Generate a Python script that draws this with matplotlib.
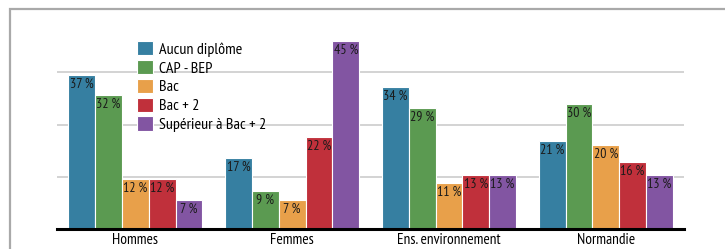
import numpy as np
import matplotlib
matplotlib.use('Agg')
import matplotlib.pyplot as plt
from matplotlib.patches import Rectangle
from matplotlib import font_manager

# data
categories = ['Hommes', 'Femmes', 'Ens. environnement', 'Normandie']
series = ['Aucun diplôme', 'CAP - BEP', 'Bac', 'Bac + 2', 'Supérieur à Bac + 2']
aucun = [37, 17, 34, 21]
cap_bep = [32, 9, 29, 30]
bac = [12, 7, 11, 20]
bac2 = [12, 22, 13, 16]
superieur = [7, 45, 13, 13]
values = [aucun, cap_bep, bac, bac2, superieur]
colors = ['#367fa1', '#5b9a51', '#e8a04a', '#c0303b', '#8255a2']

# narrow font, whichever is installed
names = {f.name for f in font_manager.fontManager.ttflist}
wanted = ['PT Sans Narrow', 'Roboto Condensed', 'Archivo Narrow', 'Asap Condensed']
fams = [n for n in wanted if n in names] + ['DejaVu Sans']
plt.rcParams['font.family'] = fams

fig = plt.figure(figsize=(7.25, 2.49), dpi=100)
ax = fig.add_axes([0.0786, 0.0815, 0.865, 0.803])

# outer frame, clipped at right and bottom
fig.patches.append(Rectangle((9.5 / 725, -0.2), 1.2, 0.2 + 1 - 9.0 / 249,
                             transform=fig.transFigure, fill=False,
                             edgecolor='#a9a9a9', linewidth=1.6))

x = np.arange(len(categories))
width = 0.171
for i, (name, vals) in enumerate(zip(series, values)):
    pos = x + (i - 2) * width
    bars = ax.bar(pos, vals, width, color=colors[i], edgecolor='white',
                  linewidth=0.8, label=name, zorder=2)
    for b, v in zip(bars, vals):
        ax.text(b.get_x() + b.get_width() / 2, v - 0.7, f'{v} %',
                ha='center', va='top', fontsize=10, color='#1a1a1a', zorder=3)

ax.set_xlim(-0.5, 3.5)
ax.set_ylim(0, 48)
ax.set_yticks([12.5, 25, 37.5])
ax.yaxis.grid(True, color='#cccccc', linewidth=1.2, zorder=0)
ax.set_axisbelow(True)
ax.tick_params(axis='y', left=False, labelleft=False)
ax.tick_params(axis='x', length=0, pad=3, labelsize=11)
ax.set_xticks(x)
ax.set_xticklabels(categories)
for s in ['top', 'right', 'left']:
    ax.spines[s].set_visible(False)
ax.spines['bottom'].set_linewidth(2.2)
ax.spines['bottom'].set_color('black')
ax.spines['bottom'].set_zorder(4)

ax.legend(loc='upper left', bbox_to_anchor=(0.117, 0.97), frameon=False,
          fontsize=11.5, handlelength=1.0, handleheight=1.0, handletextpad=0.4,
          labelspacing=0.2, borderaxespad=0)

fig.savefig('out.png', dpi=100)
